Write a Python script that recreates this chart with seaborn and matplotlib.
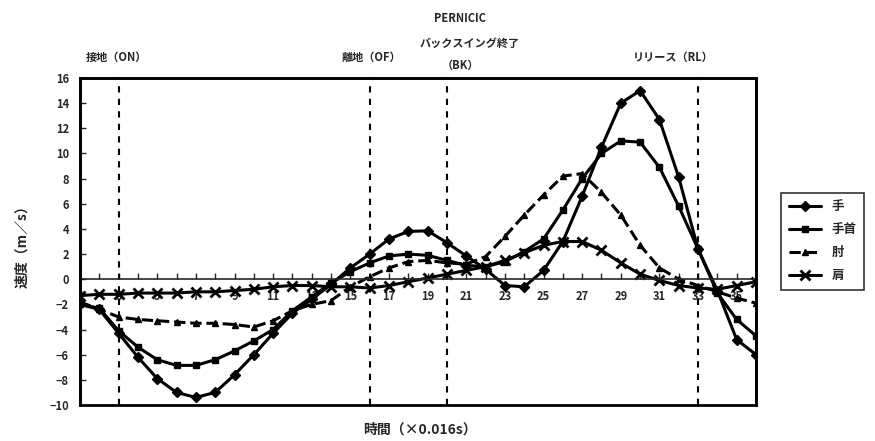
import numpy as np
import pandas as pd
import seaborn as sns
import matplotlib.pyplot as plt
from matplotlib.patches import Rectangle
import matplotlib.transforms as mtransforms

frames = list(range(1, 37))

hand = [-2.0, -2.4, -4.3, -6.2, -7.9, -9.0, -9.4, -9.0, -7.6, -6.0, -4.3, -2.7,
        -1.6, -0.4, 0.9, 2.0, 3.2, 3.8, 3.85, 2.9, 1.85, 0.8, -0.5, -0.6,
        0.7, 3.0, 6.6, 10.5, 14.0, 15.0, 12.7, 8.1, 2.4, -0.9, -4.8, -6.0]
wrist = [-2.0, -2.3, -4.1, -5.4, -6.4, -6.85, -6.85, -6.4, -5.7, -4.9, -4.0, -2.5,
         -1.4, -0.3, 0.6, 1.3, 1.85, 2.0, 1.9, 1.5, 1.1, 1.0, 1.4, 2.2,
         3.2, 5.5, 8.0, 10.0, 11.0, 10.9, 8.9, 5.8, 2.4, -1.1, -3.2, -4.5]
elbow = [-1.8, -2.4, -3.0, -3.2, -3.3, -3.4, -3.5, -3.5, -3.6, -3.8, -3.3, -2.5,
         -2.0, -1.7, -0.6, 0.2, 0.9, 1.4, 1.5, 1.3, 1.2, 1.8, 3.4, 5.1,
         6.7, 8.2, 8.4, 6.9, 5.1, 2.7, 0.9, 0.0, -0.5, -1.0, -1.5, -1.9]
shoulder = [-1.3, -1.2, -1.2, -1.1, -1.1, -1.1, -1.0, -1.0, -0.9, -0.8, -0.6, -0.5,
            -0.5, -0.6, -0.6, -0.7, -0.5, -0.2, 0.1, 0.4, 0.7, 1.0, 1.5, 2.1,
            2.7, 3.0, 3.0, 2.3, 1.3, 0.4, -0.1, -0.5, -0.7, -0.8, -0.5, -0.2]

series = [('手', hand, 'D', '-'), ('手首', wrist, 's', '-'),
          ('肘', elbow, '^', '--'), ('肩', shoulder, 'x', '-')]

events = [3, 16, 20, 33]
event_labels = [(2.9, 1.064, '接地（ON）'), (16.1, 1.064, '離地（OF）'),
                (21.2, 1.107, 'バックスイング終了'), (20.7, 1.040, '（BK）'),
                (31.7, 1.064, 'リリース（RL）')]

sns.set_style('white')
plt.rcParams['font.family'] = ['Noto Sans CJK JP', 'DejaVu Sans']
plt.rcParams['font.weight'] = 'bold'

fig = plt.figure(figsize=(8.75, 4.41), dpi=100)
ax = fig.add_axes([80/875, 1 - 405/441, (756-80)/875, (405-78)/441])

for name, vals, mk, ls in series:
    sns.lineplot(x=frames, y=vals, ax=ax, color='black', marker=mk, linestyle=ls,
                 linewidth=2.2, markersize=5 if mk != 'x' else 6.5,
                 markeredgewidth=2 if mk == 'x' else 1, markeredgecolor='black',
                 label=name)

for e in events:
    ax.axvline(e, color='black', linestyle=(0, (3, 3)), linewidth=1.5)

trans = mtransforms.blended_transform_factory(ax.transData, ax.transAxes)
for x, y, txt in event_labels:
    ax.text(x, y, txt, transform=trans, ha='center', va='center', fontsize=8,
            fontweight='bold')

ax.set_xlim(1, 36)
ax.set_ylim(-10, 16)
ax.set_yticks(range(-10, 17, 2))
ax.set_xticks(range(1, 36, 2))
ax.set_xticks(frames, minor=True)

ax.spines['bottom'].set_position(('data', 0))
ax.spines['bottom'].set_linewidth(1.2)
for s in ['left', 'top', 'right']:
    ax.spines[s].set_linewidth(2)
ax.add_patch(Rectangle((0, 0), 1, 1, transform=ax.transAxes, fill=False,
                       edgecolor='black', linewidth=2, clip_on=False, zorder=5))

ax.tick_params(axis='x', which='both', direction='in', length=4, width=1,
               pad=8, labelsize=8, bottom=True)
ax.tick_params(axis='y', direction='in', length=4, width=1, labelsize=8, left=True,
               pad=8)
for lab in ax.get_xticklabels() + ax.get_yticklabels():
    lab.set_fontweight('bold')

ax.set_xlabel('')
ax.set_ylabel('')
fig.text(22/875, 1 - 243/441, '速度（m／s）', rotation=90, ha='center', va='center',
         fontsize=10, fontweight='bold')
fig.text(420/875, 1 - 430/441, '時間（×0.016s）', ha='center', va='center',
         fontsize=10, fontweight='bold')
fig.text(460/875, 1 - 18/441, 'PERNICIC', ha='center', va='center',
         fontsize=8, fontweight='bold')

leg = ax.legend(loc='center left', bbox_to_anchor=(775/875, 1 - 241/441),
                bbox_transform=fig.transFigure, frameon=True, fancybox=False,
                edgecolor='black', fontsize=9, handlelength=2.6, borderpad=0.6,
                labelspacing=0.8)
leg.get_frame().set_linewidth(1.2)

fig.savefig('out.png', dpi=100)
